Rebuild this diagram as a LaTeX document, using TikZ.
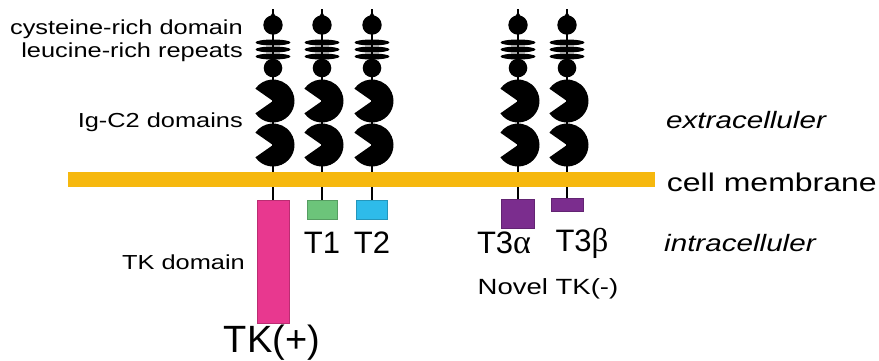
\documentclass[tikz,border=0pt]{standalone}
\usepackage{fontspec}
\setmainfont{Liberation Sans}
\newfontfamily\widesans[FakeStretch=1.25]{Liberation Sans}
\newfontfamily\greekserif{Liberation Serif}
\begin{document}
\begin{tikzpicture}[x=1pt,y=-1pt]
\definecolor{membrane}{HTML}{F6B80E}
\definecolor{tkpink}{HTML}{E8388F}
\definecolor{tgreen}{HTML}{6CC47A}
\definecolor{tblue}{HTML}{2EBBEA}
\definecolor{tpurple}{HTML}{7B2D8E}
\tikzset{
  lbl/.style={inner sep=0pt, font=\widesans\fontsize{20.3}{24}\selectfont},
  ilbl/.style={inner sep=0pt, font=\widesans\fontsize{23.7}{26}\selectfont\itshape},
  tlbl/.style={inner sep=0pt, font=\fontsize{31}{34}\selectfont},
  stalk/.style={line width=1.8pt, black},
  dombox/.style={draw=#1!80!black, line width=0.4pt, fill=#1, inner sep=0pt, minimum height=19pt},
}
\useasboundingbox (0,0) rectangle (879,360);

% one receptor: stalk, cysteine-rich ball, leucine-rich discs, Ig-C2 domains
\newcommand{\receptor}[2]{%
  \coordinate (#2) at (#1,187);
  \draw[stalk] (#1,9) -- (#1,187);
  \fill (#1,25) circle[radius=9.7pt];
  \fill (#1-3.5,17.5) -- (#1,12) -- (#1+3.5,17.5) -- cycle;
  \foreach \yy in {42.5,49.5,56.5}
    \fill (#1,\yy) ellipse[x radius=17.5pt, y radius=3pt];
  \fill (#1,68) circle[radius=9.3pt];
  \foreach \yy in {101,145}
    \fill (#1,\yy) -- ++(215:21.5pt) arc[start angle=215, end angle=505, radius=21.5pt] -- cycle;
}
\receptor{273}{r1}
\receptor{322}{r2}
\receptor{372}{r3}
\receptor{518}{r4}
\receptor{567}{r5}

% intracellular domains
\node[dombox=tkpink, minimum width=32pt, minimum height=123pt, anchor=north] (tk) at (273,200) {};
\node[dombox=tgreen, minimum width=30pt, anchor=north] (t1) at (322,200) {};
\node[dombox=tblue, minimum width=31pt, anchor=north] (t2) at (372,200) {};
\node[dombox=tpurple, minimum width=33pt, minimum height=29pt, anchor=north] (t3a) at (518,199) {};
\node[dombox=tpurple, minimum width=32pt, minimum height=13pt, anchor=north] (t3b) at (567,198) {};
\foreach \r/\b in {r1/tk,r2/t1,r3/t2,r4/t3a,r5/t3b}
  \draw[stalk] (\r) -- (\b.north);

% cell membrane
\fill[membrane] (68,172) rectangle (655,187);

% labels
\node[lbl, anchor=east] (cys) at (243,29) {cysteine-rich domain};
\node[lbl, anchor=east] (leu) at (243,52) {leucine-rich repeats};
\node[lbl, anchor=east] (ig) at (243,122) {Ig-C2 domains};
\node[ilbl, anchor=west] (ext) at (666,120) {extracelluler};
\node[inner sep=0pt, anchor=east, font=\widesans\fontsize{25.6}{28}\selectfont] (mem) at (877,182) {cell membrane};
\node[ilbl, anchor=west] (int) at (664,243) {intracelluler};
\node[lbl, anchor=east] (tkd) at (245,262) {TK domain};
\node[tlbl] (lt1) at (322,243) {T1};
\node[tlbl] (lt2) at (372,243) {T2};
\node[tlbl] (lt3a) at (504,243) {T3{\greekserif\fontsize{34}{34}\selectfont α}};
\node[tlbl] (lt3b) at (582,243) {T3{\greekserif\fontsize{33}{34}\selectfont β}};
\node[inner sep=0pt, font=\widesans\fontsize{22}{24}\selectfont] (nov) at (548,289) {Novel TK(-)};
\node[inner sep=0pt, font=\fontsize{38}{40}\selectfont] (tkp) at (272,343) {TK(+)};
\end{tikzpicture}
\end{document}
